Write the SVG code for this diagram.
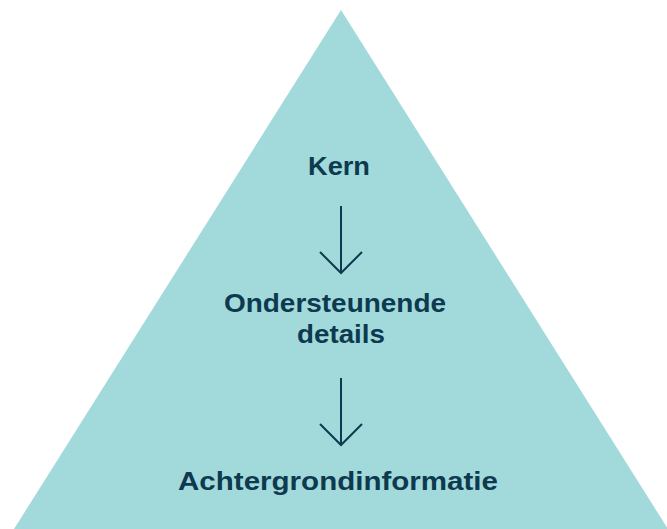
<svg xmlns="http://www.w3.org/2000/svg" width="667" height="529" viewBox="0 0 667 529">
<style>
.lbl{font-family:"Liberation Sans",Arial,sans-serif;font-weight:700;font-size:26.5px;fill:#0d3a4e;text-anchor:middle}
.arr{stroke:#0d3a4e;stroke-width:2;fill:none}
</style>
<rect width="667" height="529" fill="#ffffff"/>
<polygon id="pyramid" points="341,10 14,529 668,529" fill="#a2d9db"/>
<g id="kern"><text class="lbl" x="339" y="175" textLength="62" lengthAdjust="spacingAndGlyphs">Kern</text></g>
<g id="ondersteunende"><text class="lbl"><tspan x="335" y="312" textLength="222" lengthAdjust="spacingAndGlyphs">Ondersteunende</tspan><tspan x="341" y="343" textLength="88" lengthAdjust="spacingAndGlyphs">details</tspan></text></g>
<g id="achtergrond"><text class="lbl" x="338" y="490" textLength="320" lengthAdjust="spacingAndGlyphs">Achtergrondinformatie</text></g>
<g id="connectors">
<path class="arr" d="M341,206V273M320,252L341,273L362,252"/>
<path class="arr" d="M341,378V445M320,424L341,445L362,424"/>
</g>
</svg>
